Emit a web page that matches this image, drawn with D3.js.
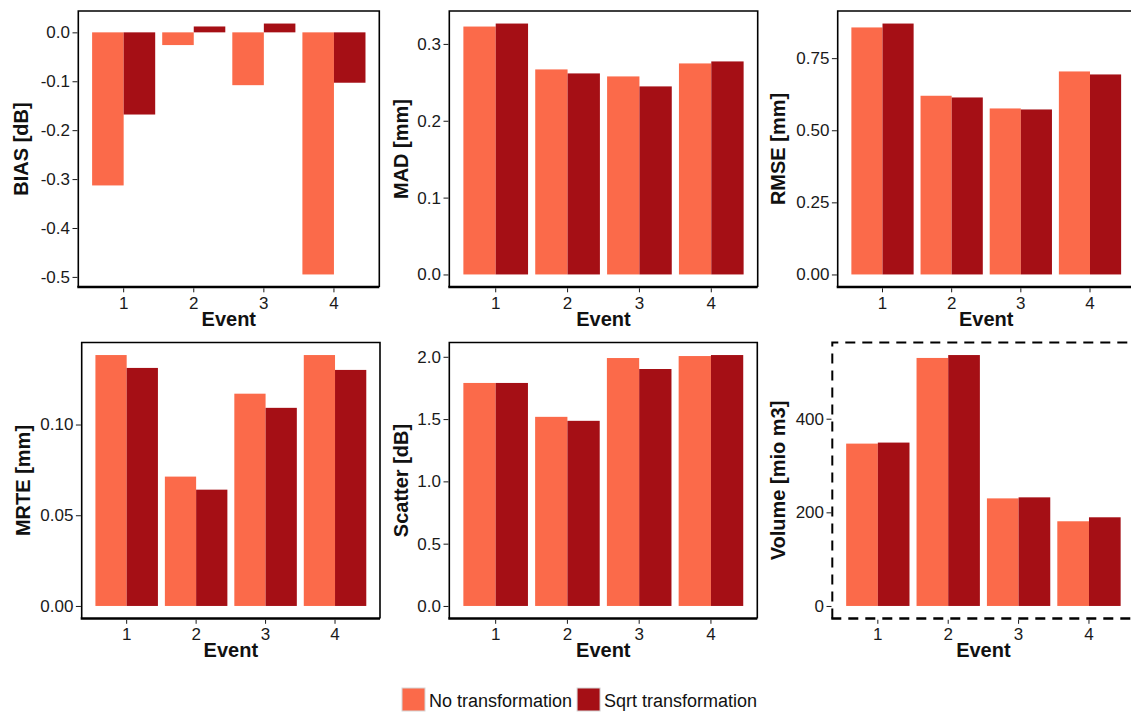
<!DOCTYPE html>
<html>
<head>
<meta charset="utf-8">
<script src="https://cdn.jsdelivr.net/npm/d3@7"></script>
<style>
  body { margin: 0; background: #fff; }
  svg { display: block; font-family: "Liberation Sans", Arial, sans-serif; }
  .title { font-weight: bold; font-size: 20px; fill: #111; }
</style>
</head>
<body>
<svg id="chart" width="1131" height="713"></svg>
<script>
'use strict';

(function () {

var EVENTS = ['1', '2', '3', '4'];
var SERIES = ['No transformation', 'Sqrt transformation'];

var BIAS_NO = [-0.313, -0.026, -0.108, -0.495];
var BIAS_SQRT = [-0.168, 0.012, 0.018, -0.103];
var MAD_NO = [0.3226, 0.2668, 0.2577, 0.2746];
var MAD_SQRT = [0.3265, 0.2616, 0.2447, 0.2772];
var RMSE_NO = [0.8565, 0.6196, 0.5756, 0.7039];
var RMSE_SQRT = [0.870, 0.6137, 0.5721, 0.6935];
var MRTE_NO = [0.1383, 0.0713, 0.1170, 0.1383];
var MRTE_SQRT = [0.1312, 0.0641, 0.1092, 0.1301];
var SCATTER_NO = [1.790, 1.518, 1.990, 2.006];
var SCATTER_SQRT = [1.790, 1.486, 1.902, 2.014];
var VOLUME_NO = [346.8, 529.8, 229.8, 180.9];
var VOLUME_SQRT = [349, 536, 232, 189.4];

var BIAS_TICKS = [0, -0.1, -0.2, -0.3, -0.4, -0.5];
var BIAS_LABELS = ['0.0', '-0.1', '-0.2', '-0.3', '-0.4', '-0.5'];
var MAD_TICKS = [0, 0.1, 0.2, 0.3];
var MAD_LABELS = ['0.0', '0.1', '0.2', '0.3'];
var RMSE_TICKS = [0, 0.25, 0.5, 0.75];
var RMSE_LABELS = ['0.00', '0.25', '0.50', '0.75'];
var MRTE_TICKS = [0, 0.05, 0.1];
var MRTE_LABELS = ['0.00', '0.05', '0.10'];
var SCATTER_TICKS = [0, 0.5, 1, 1.5, 2];
var SCATTER_LABELS = ['0.0', '0.5', '1.0', '1.5', '2.0'];
var VOLUME_TICKS = [0, 200, 400];
var VOLUME_LABELS = ['0', '200', '400'];

var COLOR = { 'No transformation': '#fb6a4a', 'Sqrt transformation': '#a50f15' };
var FONT = '"Liberation Sans", Arial, sans-serif';

// frame boxes of the six panels (pixels)
var TOP = { y0: 11, y1: 287 };
var BOTTOM = { y0: 342.5, y1: 618.5 };

var panels = [
    { title: 'BIAS [dB]', no: BIAS_NO, sqrt: BIAS_SQRT, ticks: BIAS_TICKS, labels: BIAS_LABELS,
      x0: 78.3, x1: 379.3, row: TOP, titleX: 28 },
    { title: 'MAD [mm]', no: MAD_NO, sqrt: MAD_SQRT, ticks: MAD_TICKS, labels: MAD_LABELS,
      x0: 449.3, x1: 757.7, row: TOP, titleX: 408 },
    { title: 'RMSE [mm]', no: RMSE_NO, sqrt: RMSE_SQRT, ticks: RMSE_TICKS, labels: RMSE_LABELS,
      x0: 837.7, x1: 1134.8, row: TOP, titleX: 785 },
    { title: 'MRTE [mm]', no: MRTE_NO, sqrt: MRTE_SQRT, ticks: MRTE_TICKS, labels: MRTE_LABELS,
      x0: 81.7, x1: 380, row: BOTTOM, titleX: 30 },
    { title: 'Scatter [dB]', no: SCATTER_NO, sqrt: SCATTER_SQRT, ticks: SCATTER_TICKS, labels: SCATTER_LABELS,
      x0: 449.3, x1: 757.3, row: BOTTOM, titleX: 408 },
    { title: 'Volume [mio m3]', no: VOLUME_NO, sqrt: VOLUME_SQRT, ticks: VOLUME_TICKS, labels: VOLUME_LABELS,
      x0: 832.3, x1: 1134.5, row: BOTTOM, titleX: 785, dashed: true }
];

var svg = d3.select('#chart');

panels.forEach(drawPanel);
drawLegend();

function styleAxis(a) {
    a.select('.domain').remove();
    a.attr('font-family', FONT).attr('font-size', 17);
    a.selectAll('.tick text').attr('fill', '#1a1a1a');
    a.selectAll('.tick line').attr('stroke', '#1a1a1a');
}

function drawPanel(p) {
    var rows = EVENTS.map(function (e, i) {
        return { event: e, 'No transformation': p.no[i], 'Sqrt transformation': p.sqrt[i] };
    });

    var lo = Math.min(0, d3.min(p.no), d3.min(p.sqrt));
    var hi = Math.max(0, d3.max(p.no), d3.max(p.sqrt));
    var pad = (hi - lo) * 0.05;

    var x = d3.scaleBand()
        .domain(EVENTS)
        .range([p.x0 + 3.3, p.x1 - 3.3])
        .paddingInner(0.1)
        .paddingOuter(0.15);

    var xs = d3.scaleBand()
        .domain(SERIES)
        .range([0, x.bandwidth()]);

    var y = d3.scaleLinear()
        .domain([lo - pad, hi + pad])
        .range([p.row.y1, p.row.y0]);

    var g = svg.append('g');

    g.selectAll('g.group')
        .data(rows)
        .enter()
        .append('g')
        .attr('class', 'group')
        .attr('transform', function (d) { return 'translate(' + x(d.event) + ',0)'; })
        .selectAll('rect')
        .data(function (d) { return SERIES.map(function (s) { return { key: s, value: d[s] }; }); })
        .enter()
        .append('rect')
        .attr('x', function (d) { return xs(d.key); })
        .attr('width', xs.bandwidth())
        .attr('y', function (d) { return Math.min(y(d.value), y(0)); })
        .attr('height', function (d) { return Math.abs(y(d.value) - y(0)); })
        .attr('fill', function (d) { return COLOR[d.key]; });

    var dash = p.dashed ? '10,7' : null;

    // frame: left, top, right thin; bottom thick
    g.append('path')
        .attr('d', 'M' + p.x0 + ',' + p.row.y1 + 'V' + p.row.y0 + 'H' + p.x1 + 'V' + p.row.y1)
        .attr('fill', 'none')
        .attr('stroke', '#000')
        .attr('stroke-width', p.dashed ? 2 : 1.6)
        .attr('stroke-dasharray', dash);

    g.append('line')
        .attr('x1', p.x0 - 1).attr('x2', p.x1)
        .attr('y1', p.row.y1).attr('y2', p.row.y1)
        .attr('stroke', '#000')
        .attr('stroke-width', 2.6)
        .attr('stroke-dasharray', dash);

    var yAxis = d3.axisLeft(y)
        .tickValues(p.ticks)
        .tickFormat(function (d, i) { return p.labels[i]; })
        .tickSize(5)
        .tickPadding(2.5);

    g.append('g')
        .attr('class', 'y axis')
        .attr('transform', 'translate(' + (p.x0 - 0.8) + ',0)')
        .call(yAxis)
        .call(styleAxis);

    var xAxis = d3.axisBottom(x)
        .tickSize(4)
        .tickPadding(4.5);

    g.append('g')
        .attr('class', 'x axis')
        .attr('transform', 'translate(0,' + (p.row.y1 + 1.3) + ')')
        .call(xAxis)
        .call(styleAxis);

    var r = x.range();
    g.append('text')
        .attr('class', 'title')
        .attr('x', (r[0] + r[1]) / 2)
        .attr('y', p.row.y1 + 38.5)
        .attr('text-anchor', 'middle')
        .text('Event');

    g.append('text')
        .attr('class', 'title')
        .attr('transform', 'translate(' + p.titleX + ',' + ((p.row.y0 + p.row.y1) / 2) + ') rotate(-90)')
        .attr('text-anchor', 'middle')
        .text(p.title);
}

function drawLegend() {
    var lg = svg.append('g').attr('class', 'legend');
    var cx = 402;
    SERIES.forEach(function (s) {
        lg.append('rect')
            .attr('x', cx).attr('y', 688)
            .attr('width', 23).attr('height', 23)
            .attr('fill', COLOR[s])
            .attr('stroke', '#d6d6d6')
            .attr('stroke-width', 1);
        var t = lg.append('text')
            .attr('x', cx + 27)
            .attr('y', 706.5)
            .style('font-size', '18px')
            .attr('fill', '#111')
            .text(s);
        cx += 27 + t.node().getComputedTextLength() + 5;
    });
}

})();
</script>
</body>
</html>
